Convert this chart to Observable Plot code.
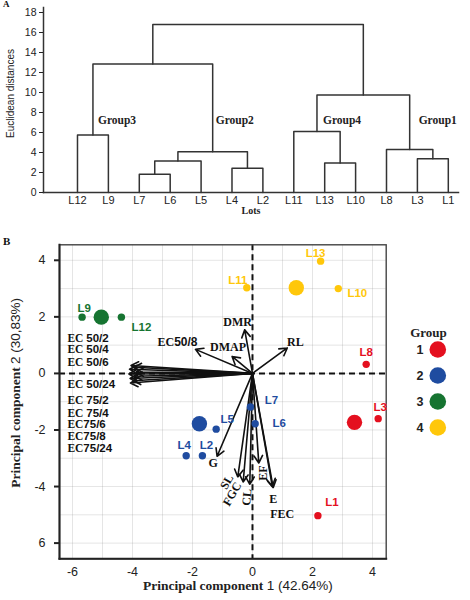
<!DOCTYPE html>
<html><head><meta charset="utf-8">
<script src="https://cdn.jsdelivr.net/npm/d3@7"></script>
<script src="https://cdn.jsdelivr.net/npm/@observablehq/plot@0.6"></script>
<style>
body{margin:0;background:#fff;}
#wrap{position:relative;width:470px;height:600px;overflow:hidden;font-family:"Liberation Sans",Arial,sans-serif;}
#wrap > div, #wrap > svg{position:absolute;}
.plabel{font-family:"Liberation Serif","Times New Roman",serif;font-weight:bold;color:#111;line-height:1;}
</style></head><body><div id="wrap"></div>
<script>
// ---------- Panel A : dendrogram data ----------
const leaves = ["L12","L9","L7","L6","L5","L4","L2","L11","L13","L10","L8","L3","L1"];
const nodeNames  = ["n0","n1","n2","n3","n4","n5","n6","n7","n8","n9","n10","n11"];
const mergeLeft  = ["L12","L7","n1","L4","n2","n0","L13","L11","L3","L8","n7","n5"];
const mergeRight = ["L9","L6","L5","L2","n3","n4","L10","n6","L1","n8","n9","n10"];
const mergeHeight = [5.75,1.83,3.14,2.42,4.08,12.85,2.94,6.11,3.37,4.31,9.75,16.8];
const groupNames = ["Group3","Group2","Group4","Group1"];
const groupNodes = ["n0","n4","n7","n9"];
const distTicks = [0,2,4,6,8,10,12,14,16,18];

// ---------- Panel B : PCA data ----------
const lotNames = ["L1","L2","L3","L4","L5","L6","L7","L8","L9","L10","L11","L12","L13"];
const lotPC1 = [2.18,-1.67,4.19,-2.21,-1.21,0.09,-0.07,3.79,-5.68,2.86,-0.19,-4.37,2.27];
const lotPC2 = [-5.03,-2.91,-1.60,-2.91,-1.97,-1.78,-1.19,0.32,1.99,3.00,3.03,1.99,3.97];
const lotGroup = ["1","2","1","2","2","2","2","1","3","4","4","3","4"];
const groupIds = ["1","2","3","4"];
const centroidPC1 = [3.40,-1.77,-5.04,1.46];
const centroidPC2 = [-1.73,-1.78,1.99,3.03];
const varNames = ["EC 50/2","EC 50/4","EC 50/6","EC 50/24","EC 75/2","EC 75/4","EC75/6","EC75/8","EC75/24",
                  "EC50/8","DMAP","DMR","RL","G","SL","FGC","CL","EF","E","FEC"];
const varPC1 = [-4.05,-3.95,-4.10,-4.07,-3.88,-4.12,-3.92,-4.08,-3.98,-1.90,-0.68,-0.26,1.16,-1.18,-0.49,-0.31,-0.09,0.21,0.69,0.66];
const varPC2 = [0.28,0.22,0.15,-0.34,0.05,-0.02,-0.10,-0.18,-0.26,0.85,0.60,1.54,0.90,-2.93,-3.66,-3.84,-3.92,-3.17,-4.04,-3.99];
const pcTicks = [-6,-4,-2,0,2,4];
const xTickLabels = ["-6","-4","-2","0","2","4"];
const yTickLabels = ["6","-4","-2","0","2","4"];
const gridTicks = [-6,-5,-4,-3,-2,-1,0,1,2,3,4];

// ---------- styling / layout ----------
const groupColors = ["#e4101f","#1f4ca0","#167431","#ffc70a"];
const SERIF = "Liberation Serif, Times New Roman, serif";
const SANS = "Liberation Sans, Arial, sans-serif";
const lotLabelOffset = {L1:[14,-13],L2:[4,-10],L3:[2,-11],L4:[-2,-10],L5:[11,-10],L6:[24,0],L7:[21,-7],
  L8:[0,-12],L9:[2,-9],L10:[19,5],L11:[-9,-7],L12:[20,10],L13:[-5,-8]};
const varLabelOffset = {"EC50/8":[-18,-7,0],DMAP:[-4,-9,0],DMR:[-7,-8,0],RL:[8,-6,0],G:[-4,7,0],
  SL:[-11,5,-60],FGC:[-11,12,-60],CL:[-3,13,-85],EF:[4,10,-90],E:[0,11,0],FEC:[10,28,0]};
const ecBlockX = -6.17;
const ecBlockY = [1.23,0.84,0.40,-0.40,-0.95,-1.40,-1.79,-2.22,-2.66];

const wrap = document.getElementById("wrap");
function place(el, left, top){ el.style.left = left+"px"; el.style.top = top+"px"; wrap.appendChild(el); }
function mixFonts(svg){
  svg.querySelectorAll("text").forEach(t=>{
    if (t.querySelector("tspan")) return;
    const s = t.textContent;
    let m = s.match(/^(EC\s?)(\d.*)$/), sufW = "bold";
    if (!m) { m = s.match(/^(Principal component )(.*)$/); sufW = "normal"; }
    if (!m) return;
    t.textContent = "";
    const a = document.createElementNS("http://www.w3.org/2000/svg","tspan");
    a.textContent = m[1]; a.setAttribute("font-family", SERIF); a.setAttribute("font-weight","bold");
    const b = document.createElementNS("http://www.w3.org/2000/svg","tspan");
    b.textContent = m[2]; b.setAttribute("font-family", SANS); b.setAttribute("font-weight", sufW);
    t.appendChild(a); t.appendChild(b);
  });
}

// ---------- build dendrogram ----------
const pos = new Map(leaves.map((l,i)=>[l,{x:i,y:0}]));
const segs = [];
nodeNames.forEach((n,k)=>{
  const a = pos.get(mergeLeft[k]), b = pos.get(mergeRight[k]), h = mergeHeight[k];
  segs.push({id:n,x:a.x,y:a.y},{id:n,x:a.x,y:h},{id:n,x:b.x,y:h},{id:n,x:b.x,y:b.y});
  pos.set(n,{x:(a.x+b.x)/2,y:h});
});
const groupDx = {Group3:5,Group2:3,Group4:6,Group1:9};

const A = Plot.plot({
  width:470, height:225, marginLeft:43, marginRight:12, marginTop:7, marginBottom:33,
  x:{domain:[-1.1,12.33]}, y:{domain:[0,18.5]},
  style:{fontFamily:SANS, background:"transparent", color:"#222", fontSize:"10.5px"},
  marks:[
    Plot.line(segs,{x:"x",y:"y",z:"id",stroke:"#333",strokeWidth:1.5}),
    Plot.frame({anchor:"left",stroke:"#333",strokeWidth:1.5}),
    Plot.frame({anchor:"bottom",stroke:"#333",strokeWidth:1.5}),
    Plot.axisY({ticks:distTicks,tickSize:4,tickPadding:3,fontSize:10.5,label:null}),
    Plot.axisX({ticks:d3.range(leaves.length),tickFormat:i=>leaves[i],tickSize:0,tickPadding:4,fontSize:11,label:null}),
    ...groupNames.map((g,i)=>Plot.text([g],{x:()=>pos.get(groupNodes[i]).x,y:()=>7.2,text:d=>d,
      textAnchor:"start",dx:groupDx[g],fontFamily:SERIF,fontWeight:"bold",fontSize:11.5,fill:"#222"})),
    Plot.text(["Lots"],{frameAnchor:"bottom",textAnchor:"middle",dy:21,fontFamily:SERIF,fontWeight:"bold",fontSize:10,fill:"#222"}),
    Plot.text(["Euclidean distances"],{frameAnchor:"left",textAnchor:"middle",dx:-33,dy:-6.5,rotate:-90,fontSize:10,fill:"#222"})
  ]
});
place(A,0,0);

// ---------- PCA biplot ----------
const lots = lotNames.map((n,i)=>({name:n,pc1:lotPC1[i],pc2:lotPC2[i],group:lotGroup[i]}));
const cents = groupIds.map((g,i)=>({group:g,pc1:centroidPC1[i],pc2:centroidPC2[i]}));
const vars = varNames.map((n,i)=>({name:n,pc1:varPC1[i],pc2:varPC2[i]}));
const ecVars = vars.filter(v=>/^EC/.test(v.name) && v.name!=="EC50/8");
const xLab = new Map(pcTicks.map((t,i)=>[t,xTickLabels[i]]));
const yLab = new Map(pcTicks.map((t,i)=>[t,yTickLabels[i]]));

const B = Plot.plot({
  width:470, height:375, marginLeft:59, marginRight:84.3, marginTop:19.3, marginBottom:41.7,
  x:{domain:[-6.433,4.457]}, y:{domain:[-6.555,4.548]},
  color:{domain:groupIds, range:groupColors},
  style:{fontFamily:SANS, background:"transparent", color:"#222", fontSize:"12.5px"},
  marks:[
    Plot.gridX(gridTicks,{stroke:"#888",strokeOpacity:0.22}),
    Plot.gridY(gridTicks,{stroke:"#888",strokeOpacity:0.22}),
    Plot.ruleX([0],{stroke:"#111",strokeWidth:2,strokeDasharray:"6,4"}),
    Plot.ruleY([0],{stroke:"#111",strokeWidth:2,strokeDasharray:"6,4"}),
    Plot.frame({stroke:"#444",strokeWidth:1.4}),
    Plot.frame({anchor:"left",stroke:"#222",strokeWidth:2}),
    Plot.frame({anchor:"bottom",stroke:"#222",strokeWidth:2}),
    Plot.axisY({ticks:pcTicks,tickFormat:d=>yLab.get(d),tickSize:5,tickPadding:9,strokeWidth:2,fontSize:12.5,label:null}),
    Plot.axisX({ticks:pcTicks,tickFormat:d=>xLab.get(d),tickSize:0,tickPadding:8,fontSize:12.5,label:null}),
    Plot.arrow(vars,{x1:0,y1:0,x2:"pc1",y2:"pc2",stroke:"#111",strokeWidth:1.6,headLength:8}),
    Plot.dot(lots,{x:"pc1",y:"pc2",fill:"group",r:3.7}),
    Plot.dot(cents,{x:"pc1",y:"pc2",fill:"group",r:7.7}),
    ...lots.map(l=>Plot.text([l],{x:"pc1",y:"pc2",text:"name",fill:"group",dx:lotLabelOffset[l.name][0],
      dy:lotLabelOffset[l.name][1],fontWeight:"bold",fontSize:11.5})),
    ...vars.filter(v=>varLabelOffset[v.name]).map(v=>Plot.text([v],{x:"pc1",y:"pc2",text:"name",
      dx:varLabelOffset[v.name][0],dy:varLabelOffset[v.name][1],rotate:varLabelOffset[v.name][2],
      fontFamily:v.name.startsWith("EC")?SANS:SERIF,fontWeight:"bold",fontSize:12,fill:"#111"})),
    Plot.text(ecVars,{x:()=>ecBlockX,y:(d,i)=>ecBlockY[i],text:"name",textAnchor:"start",fontWeight:"bold",fontSize:11.5,fill:"#111"}),
    Plot.text(["Principal component 1 (42.64%)"],{frameAnchor:"bottom",textAnchor:"middle",dx:15,dy:30.7,fontSize:13.5,fill:"#222"}),
    Plot.text(["Principal component 2 (30,83%)"],{frameAnchor:"left",textAnchor:"middle",dx:-44,dy:-9,rotate:-90,fontSize:13.5,fill:"#222"})
  ]
});
mixFonts(B);
place(B,0,225);

// ---------- legend ----------
const Lg = Plot.plot({
  width:75, height:135, marginTop:44, marginBottom:12.3, marginLeft:0, marginRight:0,
  y:{type:"point",domain:groupIds,padding:0,axis:null},
  color:{domain:groupIds,range:groupColors},
  style:{fontFamily:SANS, background:"transparent", color:"#222"},
  marks:[
    Plot.dot(groupIds,{y:d=>d,fill:d=>d,r:8.3,frameAnchor:"left",dx:45.3}),
    Plot.text(groupIds,{y:d=>d,text:d=>d,frameAnchor:"left",dx:31,textAnchor:"end",fontWeight:"bold",fontSize:12.5,fill:"#222"}),
    Plot.text(["Group"],{frameAnchor:"top-left",textAnchor:"middle",dx:36,dy:-21.7,fontFamily:SERIF,fontWeight:"bold",fontSize:13,fill:"#222"})
  ]
});
place(Lg,392,305);

// ---------- panel letters ----------
const la = document.createElement("div"); la.className="plabel"; la.textContent="A"; la.style.fontSize="9px"; place(la,3,0);
const lb = document.createElement("div"); lb.className="plabel"; lb.textContent="B"; lb.style.fontSize="11px"; place(lb,3,236);
</script></body></html>
